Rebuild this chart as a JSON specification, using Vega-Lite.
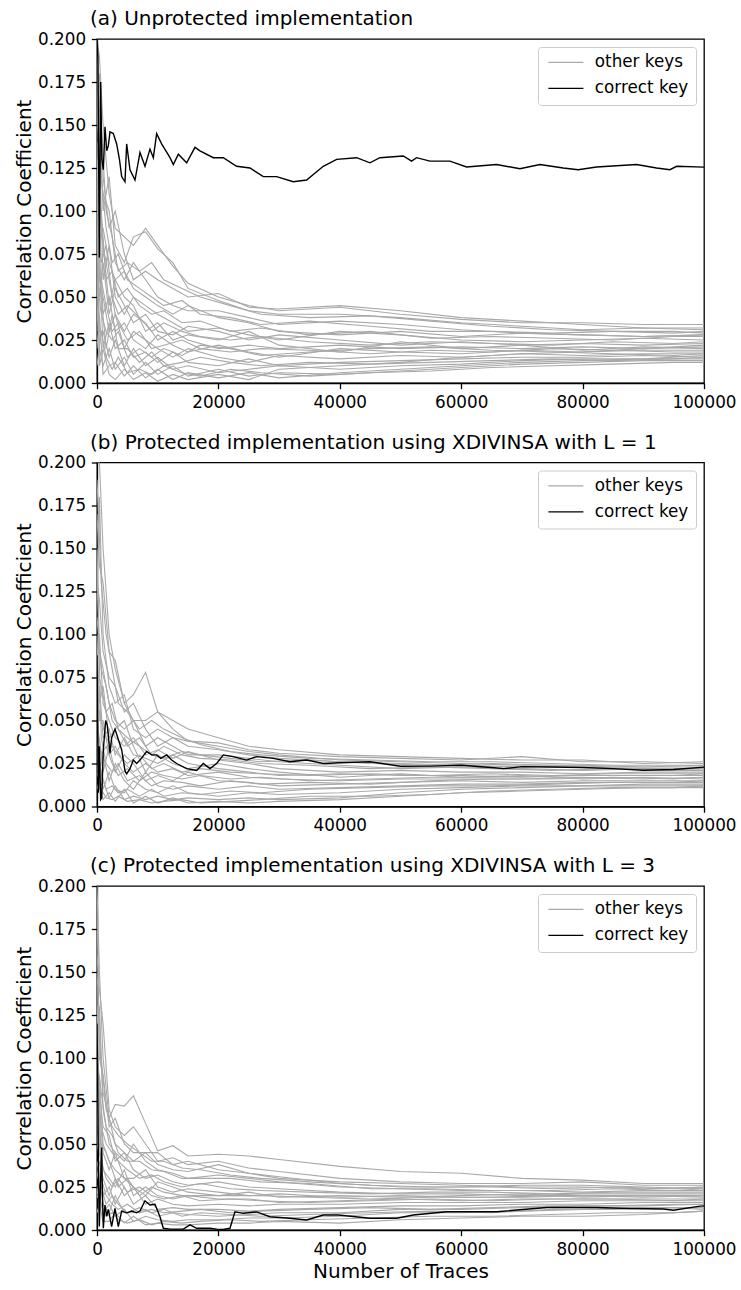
{
"$schema": "https://vega.github.io/schema/vega-lite/v6.json",
"padding": {"left": 13, "top": 8, "right": 5, "bottom": 5},
"background": "white",
"spacing": 19.5,
"config": {
  "font": "DejaVu Sans",
  "view": {"stroke": "black", "strokeWidth": 1.3},
  "axis": {"grid": false, "domainColor": "black", "domainWidth": 1.3, "tickColor": "black", "tickWidth": 1.3, "tickSize": 5.7, "labelPadding": 5.7, "labelFont": "DejaVu Sans", "labelFontSize": 16.8, "labelColor": "black", "titleFont": "DejaVu Sans", "titleFontSize": 20, "titleFontWeight": "normal", "titleColor": "black"},
  "title": {"font": "DejaVu Sans", "fontSize": 20, "fontWeight": "normal", "anchor": "start", "frame": "group", "color": "black", "offset": 2, "baseline": "alphabetic", "dx": -7},
  "legend": {"orient": "top-right", "offset": 8, "padding": 7, "strokeColor": "#cccccc", "fillColor": "white", "cornerRadius": 3, "labelFont": "DejaVu Sans", "labelFontSize": 16.8, "labelColor": "black", "symbolType": "M-1,0H6", "symbolSize": 100, "symbolStrokeWidth": 1.3, "labelOffset": 33, "rowPadding": 8}
},
"resolve": {"legend": {"color": "independent"}},
"vconcat": [
{
  "width": 607, "height": 344,
  "title": "(a) Unprotected implementation",
  "layer": [
    {
      "data": {"values": [
{"k":1,"x":0,"y":0.2},{"k":1,"x":400,"y":0.19},{"k":1,"x":1000,"y":0.15},{"k":1,"x":2000,"y":0.11},{"k":1,"x":3000,"y":0.09},{"k":1,"x":4500,"y":0.085},{"k":1,"x":6000,"y":0.08},{"k":1,"x":8000,"y":0.09},{"k":1,"x":10000,"y":0.08},{"k":1,"x":12500,"y":0.068},{"k":1,"x":15000,"y":0.058},{"k":1,"x":20000,"y":0.05},{"k":1,"x":25000,"y":0.045},{"k":1,"x":30000,"y":0.042},{"k":1,"x":40000,"y":0.044},{"k":1,"x":50000,"y":0.04},{"k":1,"x":60000,"y":0.037},{"k":1,"x":70000,"y":0.035},{"k":1,"x":80000,"y":0.035},{"k":1,"x":90000,"y":0.034},{"k":1,"x":100000,"y":0.034},
{"k":2,"x":0,"y":0.19},{"k":2,"x":400,"y":0.16},{"k":2,"x":1000,"y":0.1},{"k":2,"x":2000,"y":0.12},{"k":2,"x":3000,"y":0.08},{"k":2,"x":4500,"y":0.07},{"k":2,"x":6000,"y":0.085},{"k":2,"x":8000,"y":0.088},{"k":2,"x":10000,"y":0.078},{"k":2,"x":12500,"y":0.07},{"k":2,"x":15000,"y":0.055},{"k":2,"x":20000,"y":0.048},{"k":2,"x":25000,"y":0.042},{"k":2,"x":30000,"y":0.04},{"k":2,"x":40000,"y":0.04},{"k":2,"x":50000,"y":0.038},{"k":2,"x":60000,"y":0.035},{"k":2,"x":70000,"y":0.033},{"k":2,"x":80000,"y":0.031},{"k":2,"x":90000,"y":0.032},{"k":2,"x":100000,"y":0.031},
{"k":3,"x":0,"y":0.15},{"k":3,"x":400,"y":0.18},{"k":3,"x":1000,"y":0.12},{"k":3,"x":2000,"y":0.09},{"k":3,"x":3000,"y":0.1},{"k":3,"x":4500,"y":0.075},{"k":3,"x":6000,"y":0.06},{"k":3,"x":8000,"y":0.065},{"k":3,"x":10000,"y":0.06},{"k":3,"x":12500,"y":0.055},{"k":3,"x":15000,"y":0.05},{"k":3,"x":20000,"y":0.052},{"k":3,"x":25000,"y":0.044},{"k":3,"x":30000,"y":0.043},{"k":3,"x":40000,"y":0.045},{"k":3,"x":50000,"y":0.042},{"k":3,"x":60000,"y":0.038},{"k":3,"x":70000,"y":0.036},{"k":3,"x":80000,"y":0.034},{"k":3,"x":90000,"y":0.032},{"k":3,"x":100000,"y":0.032},
{"k":4,"x":0,"y":0.12},{"k":4,"x":400,"y":0.08},{"k":4,"x":1000,"y":0.09},{"k":4,"x":2000,"y":0.07},{"k":4,"x":3000,"y":0.06},{"k":4,"x":4500,"y":0.065},{"k":4,"x":6000,"y":0.055},{"k":4,"x":8000,"y":0.05},{"k":4,"x":10000,"y":0.045},{"k":4,"x":12500,"y":0.04},{"k":4,"x":15000,"y":0.045},{"k":4,"x":20000,"y":0.038},{"k":4,"x":25000,"y":0.035},{"k":4,"x":30000,"y":0.03},{"k":4,"x":40000,"y":0.028},{"k":4,"x":50000,"y":0.03},{"k":4,"x":60000,"y":0.027},{"k":4,"x":70000,"y":0.029},{"k":4,"x":80000,"y":0.028},{"k":4,"x":90000,"y":0.027},{"k":4,"x":100000,"y":0.028},
{"k":5,"x":0,"y":0.1},{"k":5,"x":400,"y":0.14},{"k":5,"x":1000,"y":0.06},{"k":5,"x":2000,"y":0.08},{"k":5,"x":3000,"y":0.05},{"k":5,"x":4500,"y":0.04},{"k":5,"x":6000,"y":0.05},{"k":5,"x":8000,"y":0.045},{"k":5,"x":10000,"y":0.04},{"k":5,"x":12500,"y":0.035},{"k":5,"x":15000,"y":0.03},{"k":5,"x":20000,"y":0.032},{"k":5,"x":25000,"y":0.028},{"k":5,"x":30000,"y":0.025},{"k":5,"x":40000,"y":0.03},{"k":5,"x":50000,"y":0.028},{"k":5,"x":60000,"y":0.025},{"k":5,"x":70000,"y":0.024},{"k":5,"x":80000,"y":0.025},{"k":5,"x":90000,"y":0.026},{"k":5,"x":100000,"y":0.025},
{"k":6,"x":0,"y":0.08},{"k":6,"x":400,"y":0.05},{"k":6,"x":1000,"y":0.07},{"k":6,"x":2000,"y":0.04},{"k":6,"x":3000,"y":0.055},{"k":6,"x":4500,"y":0.045},{"k":6,"x":6000,"y":0.035},{"k":6,"x":8000,"y":0.04},{"k":6,"x":10000,"y":0.03},{"k":6,"x":12500,"y":0.028},{"k":6,"x":15000,"y":0.033},{"k":6,"x":20000,"y":0.03},{"k":6,"x":25000,"y":0.025},{"k":6,"x":30000,"y":0.028},{"k":6,"x":40000,"y":0.025},{"k":6,"x":50000,"y":0.022},{"k":6,"x":60000,"y":0.024},{"k":6,"x":70000,"y":0.022},{"k":6,"x":80000,"y":0.023},{"k":6,"x":90000,"y":0.022},{"k":6,"x":100000,"y":0.023},
{"k":7,"x":0,"y":0.18},{"k":7,"x":400,"y":0.1},{"k":7,"x":1000,"y":0.08},{"k":7,"x":2000,"y":0.06},{"k":7,"x":3000,"y":0.04},{"k":7,"x":4500,"y":0.03},{"k":7,"x":6000,"y":0.04},{"k":7,"x":8000,"y":0.035},{"k":7,"x":10000,"y":0.025},{"k":7,"x":12500,"y":0.03},{"k":7,"x":15000,"y":0.025},{"k":7,"x":20000,"y":0.02},{"k":7,"x":25000,"y":0.022},{"k":7,"x":30000,"y":0.02},{"k":7,"x":40000,"y":0.022},{"k":7,"x":50000,"y":0.02},{"k":7,"x":60000,"y":0.021},{"k":7,"x":70000,"y":0.02},{"k":7,"x":80000,"y":0.021},{"k":7,"x":90000,"y":0.02},{"k":7,"x":100000,"y":0.021},
{"k":8,"x":0,"y":0.05},{"k":8,"x":400,"y":0.09},{"k":8,"x":1000,"y":0.04},{"k":8,"x":2000,"y":0.05},{"k":8,"x":3000,"y":0.03},{"k":8,"x":4500,"y":0.035},{"k":8,"x":6000,"y":0.025},{"k":8,"x":8000,"y":0.02},{"k":8,"x":10000,"y":0.028},{"k":8,"x":12500,"y":0.022},{"k":8,"x":15000,"y":0.018},{"k":8,"x":20000,"y":0.022},{"k":8,"x":25000,"y":0.018},{"k":8,"x":30000,"y":0.015},{"k":8,"x":40000,"y":0.02},{"k":8,"x":50000,"y":0.018},{"k":8,"x":60000,"y":0.017},{"k":8,"x":70000,"y":0.019},{"k":8,"x":80000,"y":0.018},{"k":8,"x":90000,"y":0.019},{"k":8,"x":100000,"y":0.019},
{"k":9,"x":0,"y":0.14},{"k":9,"x":400,"y":0.06},{"k":9,"x":1000,"y":0.05},{"k":9,"x":2000,"y":0.03},{"k":9,"x":3000,"y":0.04},{"k":9,"x":4500,"y":0.02},{"k":9,"x":6000,"y":0.03},{"k":9,"x":8000,"y":0.025},{"k":9,"x":10000,"y":0.02},{"k":9,"x":12500,"y":0.015},{"k":9,"x":15000,"y":0.02},{"k":9,"x":20000,"y":0.015},{"k":9,"x":25000,"y":0.012},{"k":9,"x":30000,"y":0.016},{"k":9,"x":40000,"y":0.014},{"k":9,"x":50000,"y":0.016},{"k":9,"x":60000,"y":0.015},{"k":9,"x":70000,"y":0.017},{"k":9,"x":80000,"y":0.016},{"k":9,"x":90000,"y":0.017},{"k":9,"x":100000,"y":0.017},
{"k":10,"x":0,"y":0.03},{"k":10,"x":400,"y":0.07},{"k":10,"x":1000,"y":0.02},{"k":10,"x":2000,"y":0.035},{"k":10,"x":3000,"y":0.02},{"k":10,"x":4500,"y":0.025},{"k":10,"x":6000,"y":0.015},{"k":10,"x":8000,"y":0.018},{"k":10,"x":10000,"y":0.012},{"k":10,"x":12500,"y":0.018},{"k":10,"x":15000,"y":0.012},{"k":10,"x":20000,"y":0.01},{"k":10,"x":25000,"y":0.014},{"k":10,"x":30000,"y":0.01},{"k":10,"x":40000,"y":0.012},{"k":10,"x":50000,"y":0.013},{"k":10,"x":60000,"y":0.014},{"k":10,"x":70000,"y":0.015},{"k":10,"x":80000,"y":0.015},{"k":10,"x":90000,"y":0.016},{"k":10,"x":100000,"y":0.015},
{"k":11,"x":0,"y":0.09},{"k":11,"x":400,"y":0.03},{"k":11,"x":1000,"y":0.03},{"k":11,"x":2000,"y":0.015},{"k":11,"x":3000,"y":0.025},{"k":11,"x":4500,"y":0.01},{"k":11,"x":6000,"y":0.02},{"k":11,"x":8000,"y":0.01},{"k":11,"x":10000,"y":0.015},{"k":11,"x":12500,"y":0.008},{"k":11,"x":15000,"y":0.01},{"k":11,"x":20000,"y":0.006},{"k":11,"x":25000,"y":0.008},{"k":11,"x":30000,"y":0.01},{"k":11,"x":40000,"y":0.008},{"k":11,"x":50000,"y":0.01},{"k":11,"x":60000,"y":0.011},{"k":11,"x":70000,"y":0.013},{"k":11,"x":80000,"y":0.014},{"k":11,"x":90000,"y":0.014},{"k":11,"x":100000,"y":0.014},
{"k":12,"x":0,"y":0.06},{"k":12,"x":400,"y":0.02},{"k":12,"x":1000,"y":0.01},{"k":12,"x":2000,"y":0.02},{"k":12,"x":3000,"y":0.008},{"k":12,"x":4500,"y":0.015},{"k":12,"x":6000,"y":0.005},{"k":12,"x":8000,"y":0.012},{"k":12,"x":10000,"y":0.005},{"k":12,"x":12500,"y":0.01},{"k":12,"x":15000,"y":0.004},{"k":12,"x":20000,"y":0.008},{"k":12,"x":25000,"y":0.004},{"k":12,"x":30000,"y":0.006},{"k":12,"x":40000,"y":0.005},{"k":12,"x":50000,"y":0.007},{"k":12,"x":60000,"y":0.009},{"k":12,"x":70000,"y":0.011},{"k":12,"x":80000,"y":0.012},{"k":12,"x":90000,"y":0.013},{"k":12,"x":100000,"y":0.013},
{"k":13,"x":0,"y":0.02},{"k":13,"x":400,"y":0.04},{"k":13,"x":1000,"y":0.005},{"k":13,"x":2000,"y":0.01},{"k":13,"x":3000,"y":0.012},{"k":13,"x":4500,"y":0.004},{"k":13,"x":6000,"y":0.01},{"k":13,"x":8000,"y":0.003},{"k":13,"x":10000,"y":0.008},{"k":13,"x":12500,"y":0.002},{"k":13,"x":15000,"y":0.006},{"k":13,"x":20000,"y":0.003},{"k":13,"x":25000,"y":0.006},{"k":13,"x":30000,"y":0.003},{"k":13,"x":40000,"y":0.006},{"k":13,"x":50000,"y":0.008},{"k":13,"x":60000,"y":0.01},{"k":13,"x":70000,"y":0.012},{"k":13,"x":80000,"y":0.013},{"k":13,"x":90000,"y":0.014},{"k":13,"x":100000,"y":0.016},
{"k":14,"x":0,"y":0.11},{"k":14,"x":400,"y":0.01},{"k":14,"x":1000,"y":0.02},{"k":14,"x":2000,"y":0.005},{"k":14,"x":3000,"y":0.002},{"k":14,"x":4500,"y":0.008},{"k":14,"x":6000,"y":0.002},{"k":14,"x":8000,"y":0.006},{"k":14,"x":10000,"y":0.001},{"k":14,"x":12500,"y":0.005},{"k":14,"x":15000,"y":0.002},{"k":14,"x":20000,"y":0.005},{"k":14,"x":25000,"y":0.002},{"k":14,"x":30000,"y":0.008},{"k":14,"x":40000,"y":0.01},{"k":14,"x":50000,"y":0.012},{"k":14,"x":60000,"y":0.015},{"k":14,"x":70000,"y":0.017},{"k":14,"x":80000,"y":0.018},{"k":14,"x":90000,"y":0.02},{"k":14,"x":100000,"y":0.022},
{"k":15,"x":0,"y":0.17},{"k":15,"x":400,"y":0.13},{"k":15,"x":1000,"y":0.11},{"k":15,"x":2000,"y":0.1},{"k":15,"x":3000,"y":0.07},{"k":15,"x":4500,"y":0.06},{"k":15,"x":6000,"y":0.07},{"k":15,"x":8000,"y":0.06},{"k":15,"x":10000,"y":0.05},{"k":15,"x":12500,"y":0.045},{"k":15,"x":15000,"y":0.042},{"k":15,"x":20000,"y":0.042},{"k":15,"x":25000,"y":0.038},{"k":15,"x":30000,"y":0.034},{"k":15,"x":40000,"y":0.036},{"k":15,"x":50000,"y":0.034},{"k":15,"x":60000,"y":0.031},{"k":15,"x":70000,"y":0.029},{"k":15,"x":80000,"y":0.028},{"k":15,"x":90000,"y":0.027},{"k":15,"x":100000,"y":0.028},
{"k":16,"x":0,"y":0.07},{"k":16,"x":400,"y":0.11},{"k":16,"x":1000,"y":0.08},{"k":16,"x":2000,"y":0.045},{"k":16,"x":3000,"y":0.06},{"k":16,"x":4500,"y":0.05},{"k":16,"x":6000,"y":0.045},{"k":16,"x":8000,"y":0.03},{"k":16,"x":10000,"y":0.035},{"k":16,"x":12500,"y":0.025},{"k":16,"x":15000,"y":0.028},{"k":16,"x":20000,"y":0.025},{"k":16,"x":25000,"y":0.03},{"k":16,"x":30000,"y":0.022},{"k":16,"x":40000,"y":0.018},{"k":16,"x":50000,"y":0.024},{"k":16,"x":60000,"y":0.02},{"k":16,"x":70000,"y":0.022},{"k":16,"x":80000,"y":0.019},{"k":16,"x":90000,"y":0.021},{"k":16,"x":100000,"y":0.02},
{"k":17,"x":0,"y":0.16},{"k":17,"x":700,"y":0.12},{"k":17,"x":1500,"y":0.09},{"k":17,"x":2500,"y":0.07},{"k":17,"x":3500,"y":0.075},{"k":17,"x":5000,"y":0.06},{"k":17,"x":7000,"y":0.055},{"k":17,"x":9000,"y":0.05},{"k":17,"x":11000,"y":0.045},{"k":17,"x":14000,"y":0.048},{"k":17,"x":17000,"y":0.04},{"k":17,"x":22000,"y":0.038},{"k":17,"x":27000,"y":0.034},{"k":17,"x":35000,"y":0.036},{"k":17,"x":45000,"y":0.033},{"k":17,"x":55000,"y":0.03},{"k":17,"x":65000,"y":0.03},{"k":17,"x":75000,"y":0.029},{"k":17,"x":85000,"y":0.03},{"k":17,"x":95000,"y":0.03},{"k":17,"x":100000,"y":0.029},
{"k":18,"x":0,"y":0.09},{"k":18,"x":700,"y":0.1},{"k":18,"x":1500,"y":0.06},{"k":18,"x":2500,"y":0.065},{"k":18,"x":3500,"y":0.05},{"k":18,"x":5000,"y":0.055},{"k":18,"x":7000,"y":0.045},{"k":18,"x":9000,"y":0.04},{"k":18,"x":11000,"y":0.042},{"k":18,"x":14000,"y":0.035},{"k":18,"x":17000,"y":0.036},{"k":18,"x":22000,"y":0.03},{"k":18,"x":27000,"y":0.032},{"k":18,"x":35000,"y":0.028},{"k":18,"x":45000,"y":0.03},{"k":18,"x":55000,"y":0.026},{"k":18,"x":65000,"y":0.027},{"k":18,"x":75000,"y":0.026},{"k":18,"x":85000,"y":0.025},{"k":18,"x":95000,"y":0.027},{"k":18,"x":100000,"y":0.027},
{"k":19,"x":0,"y":0.13},{"k":19,"x":700,"y":0.07},{"k":19,"x":1500,"y":0.08},{"k":19,"x":2500,"y":0.05},{"k":19,"x":3500,"y":0.04},{"k":19,"x":5000,"y":0.045},{"k":19,"x":7000,"y":0.038},{"k":19,"x":9000,"y":0.03},{"k":19,"x":11000,"y":0.035},{"k":19,"x":14000,"y":0.03},{"k":19,"x":17000,"y":0.027},{"k":19,"x":22000,"y":0.025},{"k":19,"x":27000,"y":0.027},{"k":19,"x":35000,"y":0.024},{"k":19,"x":45000,"y":0.022},{"k":19,"x":55000,"y":0.024},{"k":19,"x":65000,"y":0.023},{"k":19,"x":75000,"y":0.022},{"k":19,"x":85000,"y":0.024},{"k":19,"x":95000,"y":0.023},{"k":19,"x":100000,"y":0.024},
{"k":20,"x":0,"y":0.04},{"k":20,"x":700,"y":0.06},{"k":20,"x":1500,"y":0.045},{"k":20,"x":2500,"y":0.03},{"k":20,"x":3500,"y":0.035},{"k":20,"x":5000,"y":0.025},{"k":20,"x":7000,"y":0.03},{"k":20,"x":9000,"y":0.02},{"k":20,"x":11000,"y":0.022},{"k":20,"x":14000,"y":0.025},{"k":20,"x":17000,"y":0.02},{"k":20,"x":22000,"y":0.018},{"k":20,"x":27000,"y":0.02},{"k":20,"x":35000,"y":0.019},{"k":20,"x":45000,"y":0.017},{"k":20,"x":55000,"y":0.019},{"k":20,"x":65000,"y":0.018},{"k":20,"x":75000,"y":0.02},{"k":20,"x":85000,"y":0.019},{"k":20,"x":95000,"y":0.018},{"k":20,"x":100000,"y":0.018},
{"k":21,"x":0,"y":0.11},{"k":21,"x":700,"y":0.05},{"k":21,"x":1500,"y":0.02},{"k":21,"x":2500,"y":0.04},{"k":21,"x":3500,"y":0.02},{"k":21,"x":5000,"y":0.02},{"k":21,"x":7000,"y":0.012},{"k":21,"x":9000,"y":0.018},{"k":21,"x":11000,"y":0.01},{"k":21,"x":14000,"y":0.012},{"k":21,"x":17000,"y":0.015},{"k":21,"x":22000,"y":0.012},{"k":21,"x":27000,"y":0.01},{"k":21,"x":35000,"y":0.012},{"k":21,"x":45000,"y":0.011},{"k":21,"x":55000,"y":0.012},{"k":21,"x":65000,"y":0.013},{"k":21,"x":75000,"y":0.014},{"k":21,"x":85000,"y":0.013},{"k":21,"x":95000,"y":0.014},{"k":21,"x":100000,"y":0.015},
{"k":22,"x":0,"y":0.01},{"k":22,"x":700,"y":0.03},{"k":22,"x":1500,"y":0.015},{"k":22,"x":2500,"y":0.008},{"k":22,"x":3500,"y":0.015},{"k":22,"x":5000,"y":0.006},{"k":22,"x":7000,"y":0.008},{"k":22,"x":9000,"y":0.005},{"k":22,"x":11000,"y":0.01},{"k":22,"x":14000,"y":0.006},{"k":22,"x":17000,"y":0.004},{"k":22,"x":22000,"y":0.008},{"k":22,"x":27000,"y":0.006},{"k":22,"x":35000,"y":0.004},{"k":22,"x":45000,"y":0.006},{"k":22,"x":55000,"y":0.007},{"k":22,"x":65000,"y":0.009},{"k":22,"x":75000,"y":0.01},{"k":22,"x":85000,"y":0.011},{"k":22,"x":95000,"y":0.012},{"k":22,"x":100000,"y":0.012},
{"k":23,"x":0,"y":0.18},{"k":23,"x":700,"y":0.15},{"k":23,"x":1500,"y":0.1},{"k":23,"x":2500,"y":0.085},{"k":23,"x":3500,"y":0.065},{"k":23,"x":5000,"y":0.07},{"k":23,"x":7000,"y":0.065},{"k":23,"x":9000,"y":0.07},{"k":23,"x":11000,"y":0.06},{"k":23,"x":14000,"y":0.055},{"k":23,"x":17000,"y":0.05},{"k":23,"x":22000,"y":0.045},{"k":23,"x":27000,"y":0.04},{"k":23,"x":35000,"y":0.038},{"k":23,"x":45000,"y":0.039},{"k":23,"x":55000,"y":0.036},{"k":23,"x":65000,"y":0.033},{"k":23,"x":75000,"y":0.031},{"k":23,"x":85000,"y":0.03},{"k":23,"x":95000,"y":0.029},{"k":23,"x":100000,"y":0.03},
{"k":24,"x":0,"y":0.06},{"k":24,"x":700,"y":0.04},{"k":24,"x":1500,"y":0.03},{"k":24,"x":2500,"y":0.025},{"k":24,"x":3500,"y":0.03},{"k":24,"x":5000,"y":0.015},{"k":24,"x":7000,"y":0.02},{"k":24,"x":9000,"y":0.015},{"k":24,"x":11000,"y":0.02},{"k":24,"x":14000,"y":0.016},{"k":24,"x":17000,"y":0.022},{"k":24,"x":22000,"y":0.02},{"k":24,"x":27000,"y":0.016},{"k":24,"x":35000,"y":0.018},{"k":24,"x":45000,"y":0.02},{"k":24,"x":55000,"y":0.021},{"k":24,"x":65000,"y":0.019},{"k":24,"x":75000,"y":0.018},{"k":24,"x":85000,"y":0.017},{"k":24,"x":95000,"y":0.016},{"k":24,"x":100000,"y":0.017}
      ]},
      "mark": {"type": "line", "strokeWidth": 1.1, "clip": true},
      "encoding": {
        "x": {"field": "x", "type": "quantitative", "scale": {"domain": [0, 100000], "nice": false}, "axis": {"title": null, "values": [0, 20000, 40000, 60000, 80000, 100000], "format": "d", "labelFlush": false}},
        "y": {"field": "y", "type": "quantitative", "scale": {"domain": [0, 0.2], "nice": false}, "axis": {"title": "Correlation Coefficient", "values": [0, 0.025, 0.05, 0.075, 0.1, 0.125, 0.15, 0.175, 0.2], "format": ".3f", "titlePadding": 3}},
        "detail": {"field": "k", "type": "nominal"},
        "color": {"datum": "other keys", "type": "nominal", "scale": {"domain": ["other keys", "correct key"], "range": ["#a9a9a9", "#000000"]}, "legend": {"title": null}}
      }
    },
    {
      "data": {"values": [
{"x":0,"y":0.2},{"x":150,"y":0.19},{"x":384,"y":0.073},{"x":604,"y":0.175},{"x":800,"y":0.13},{"x":1043,"y":0.124},{"x":1318,"y":0.149},{"x":1600,"y":0.135},{"x":1866,"y":0.138},{"x":2141,"y":0.146},{"x":2690,"y":0.145},{"x":3239,"y":0.139},{"x":3700,"y":0.13},{"x":4062,"y":0.12},{"x":4612,"y":0.117},{"x":4886,"y":0.139},{"x":5435,"y":0.124},{"x":6259,"y":0.118},{"x":7082,"y":0.134},{"x":7905,"y":0.126},{"x":8729,"y":0.136},{"x":9278,"y":0.131},{"x":9827,"y":0.145},{"x":10650,"y":0.139},{"x":12023,"y":0.131},{"x":12572,"y":0.127},{"x":13395,"y":0.133},{"x":14768,"y":0.128},{"x":16141,"y":0.137},{"x":16964,"y":0.135},{"x":19160,"y":0.131},{"x":20807,"y":0.131},{"x":23003,"y":0.126},{"x":25199,"y":0.125},{"x":27395,"y":0.12},{"x":29590,"y":0.12},{"x":32336,"y":0.117},{"x":34532,"y":0.118},{"x":37277,"y":0.126},{"x":39480,"y":0.13},{"x":42770,"y":0.131},{"x":44970,"y":0.128},{"x":46610,"y":0.131},{"x":50450,"y":0.132},{"x":51830,"y":0.129},{"x":52650,"y":0.131},{"x":54850,"y":0.129},{"x":58140,"y":0.129},{"x":60880,"y":0.1256},{"x":65830,"y":0.127},{"x":69670,"y":0.1246},{"x":72970,"y":0.127},{"x":76810,"y":0.125},{"x":79280,"y":0.124},{"x":82300,"y":0.1256},{"x":88890,"y":0.127},{"x":92190,"y":0.125},{"x":94390,"y":0.124},{"x":95490,"y":0.126},{"x":100000,"y":0.1255}
      ]},
      "mark": {"type": "line", "strokeWidth": 1.4, "clip": true},
      "encoding": {
        "x": {"field": "x", "type": "quantitative"},
        "y": {"field": "y", "type": "quantitative"},
        "color": {"datum": "correct key", "type": "nominal", "legend": {"title": null}}
      }
    }
  ]
},
{
  "width": 607, "height": 344,
  "title": "(b) Protected implementation using XDIVINSA with L = 1",
  "layer": [
    {
      "data": {"values": [
{"k":1,"x":0,"y":0.2},{"k":1,"x":400,"y":0.2},{"k":1,"x":1000,"y":0.15},{"k":1,"x":2000,"y":0.1},{"k":1,"x":3000,"y":0.08},{"k":1,"x":4500,"y":0.06},{"k":1,"x":6000,"y":0.065},{"k":1,"x":8000,"y":0.078},{"k":1,"x":10000,"y":0.055},{"k":1,"x":12500,"y":0.045},{"k":1,"x":15000,"y":0.038},{"k":1,"x":20000,"y":0.037},{"k":1,"x":25000,"y":0.033},{"k":1,"x":30000,"y":0.031},{"k":1,"x":40000,"y":0.029},{"k":1,"x":50000,"y":0.028},{"k":1,"x":60000,"y":0.027},{"k":1,"x":70000,"y":0.029},{"k":1,"x":80000,"y":0.026},{"k":1,"x":90000,"y":0.026},{"k":1,"x":100000,"y":0.025},
{"k":2,"x":0,"y":0.17},{"k":2,"x":400,"y":0.14},{"k":2,"x":1000,"y":0.13},{"k":2,"x":2000,"y":0.09},{"k":2,"x":3000,"y":0.085},{"k":2,"x":4500,"y":0.06},{"k":2,"x":6000,"y":0.05},{"k":2,"x":8000,"y":0.05},{"k":2,"x":10000,"y":0.055},{"k":2,"x":12500,"y":0.05},{"k":2,"x":15000,"y":0.045},{"k":2,"x":20000,"y":0.04},{"k":2,"x":25000,"y":0.035},{"k":2,"x":30000,"y":0.033},{"k":2,"x":40000,"y":0.03},{"k":2,"x":50000,"y":0.029},{"k":2,"x":60000,"y":0.028},{"k":2,"x":70000,"y":0.027},{"k":2,"x":80000,"y":0.027},{"k":2,"x":90000,"y":0.025},{"k":2,"x":100000,"y":0.026},
{"k":3,"x":0,"y":0.12},{"k":3,"x":400,"y":0.18},{"k":3,"x":1000,"y":0.1},{"k":3,"x":2000,"y":0.07},{"k":3,"x":3000,"y":0.06},{"k":3,"x":4500,"y":0.065},{"k":3,"x":6000,"y":0.045},{"k":3,"x":8000,"y":0.04},{"k":3,"x":10000,"y":0.045},{"k":3,"x":12500,"y":0.04},{"k":3,"x":15000,"y":0.038},{"k":3,"x":20000,"y":0.035},{"k":3,"x":25000,"y":0.032},{"k":3,"x":30000,"y":0.03},{"k":3,"x":40000,"y":0.027},{"k":3,"x":50000,"y":0.026},{"k":3,"x":60000,"y":0.025},{"k":3,"x":70000,"y":0.024},{"k":3,"x":80000,"y":0.024},{"k":3,"x":90000,"y":0.023},{"k":3,"x":100000,"y":0.024},
{"k":4,"x":0,"y":0.15},{"k":4,"x":400,"y":0.09},{"k":4,"x":1000,"y":0.08},{"k":4,"x":2000,"y":0.06},{"k":4,"x":3000,"y":0.05},{"k":4,"x":4500,"y":0.045},{"k":4,"x":6000,"y":0.05},{"k":4,"x":8000,"y":0.035},{"k":4,"x":10000,"y":0.04},{"k":4,"x":12500,"y":0.035},{"k":4,"x":15000,"y":0.03},{"k":4,"x":20000,"y":0.03},{"k":4,"x":25000,"y":0.028},{"k":4,"x":30000,"y":0.026},{"k":4,"x":40000,"y":0.024},{"k":4,"x":50000,"y":0.022},{"k":4,"x":60000,"y":0.023},{"k":4,"x":70000,"y":0.022},{"k":4,"x":80000,"y":0.021},{"k":4,"x":90000,"y":0.022},{"k":4,"x":100000,"y":0.021},
{"k":5,"x":0,"y":0.08},{"k":5,"x":400,"y":0.1},{"k":5,"x":1000,"y":0.06},{"k":5,"x":2000,"y":0.05},{"k":5,"x":3000,"y":0.04},{"k":5,"x":4500,"y":0.035},{"k":5,"x":6000,"y":0.04},{"k":5,"x":8000,"y":0.03},{"k":5,"x":10000,"y":0.033},{"k":5,"x":12500,"y":0.028},{"k":5,"x":15000,"y":0.032},{"k":5,"x":20000,"y":0.027},{"k":5,"x":25000,"y":0.025},{"k":5,"x":30000,"y":0.022},{"k":5,"x":40000,"y":0.02},{"k":5,"x":50000,"y":0.021},{"k":5,"x":60000,"y":0.02},{"k":5,"x":70000,"y":0.02},{"k":5,"x":80000,"y":0.019},{"k":5,"x":90000,"y":0.02},{"k":5,"x":100000,"y":0.02},
{"k":6,"x":0,"y":0.05},{"k":6,"x":400,"y":0.07},{"k":6,"x":1000,"y":0.04},{"k":6,"x":2000,"y":0.045},{"k":6,"x":3000,"y":0.03},{"k":6,"x":4500,"y":0.04},{"k":6,"x":6000,"y":0.03},{"k":6,"x":8000,"y":0.028},{"k":6,"x":10000,"y":0.025},{"k":6,"x":12500,"y":0.03},{"k":6,"x":15000,"y":0.025},{"k":6,"x":20000,"y":0.022},{"k":6,"x":25000,"y":0.02},{"k":6,"x":30000,"y":0.018},{"k":6,"x":40000,"y":0.019},{"k":6,"x":50000,"y":0.018},{"k":6,"x":60000,"y":0.018},{"k":6,"x":70000,"y":0.017},{"k":6,"x":80000,"y":0.018},{"k":6,"x":90000,"y":0.018},{"k":6,"x":100000,"y":0.018},
{"k":7,"x":0,"y":0.1},{"k":7,"x":400,"y":0.05},{"k":7,"x":1000,"y":0.05},{"k":7,"x":2000,"y":0.03},{"k":7,"x":3000,"y":0.035},{"k":7,"x":4500,"y":0.025},{"k":7,"x":6000,"y":0.02},{"k":7,"x":8000,"y":0.025},{"k":7,"x":10000,"y":0.02},{"k":7,"x":12500,"y":0.022},{"k":7,"x":15000,"y":0.018},{"k":7,"x":20000,"y":0.02},{"k":7,"x":25000,"y":0.017},{"k":7,"x":30000,"y":0.016},{"k":7,"x":40000,"y":0.015},{"k":7,"x":50000,"y":0.016},{"k":7,"x":60000,"y":0.016},{"k":7,"x":70000,"y":0.016},{"k":7,"x":80000,"y":0.017},{"k":7,"x":90000,"y":0.016},{"k":7,"x":100000,"y":0.017},
{"k":8,"x":0,"y":0.03},{"k":8,"x":400,"y":0.04},{"k":8,"x":1000,"y":0.02},{"k":8,"x":2000,"y":0.035},{"k":8,"x":3000,"y":0.02},{"k":8,"x":4500,"y":0.03},{"k":8,"x":6000,"y":0.025},{"k":8,"x":8000,"y":0.015},{"k":8,"x":10000,"y":0.018},{"k":8,"x":12500,"y":0.015},{"k":8,"x":15000,"y":0.02},{"k":8,"x":20000,"y":0.015},{"k":8,"x":25000,"y":0.014},{"k":8,"x":30000,"y":0.012},{"k":8,"x":40000,"y":0.013},{"k":8,"x":50000,"y":0.014},{"k":8,"x":60000,"y":0.015},{"k":8,"x":70000,"y":0.014},{"k":8,"x":80000,"y":0.015},{"k":8,"x":90000,"y":0.015},{"k":8,"x":100000,"y":0.015},
{"k":9,"x":0,"y":0.07},{"k":9,"x":400,"y":0.02},{"k":9,"x":1000,"y":0.03},{"k":9,"x":2000,"y":0.015},{"k":9,"x":3000,"y":0.025},{"k":9,"x":4500,"y":0.015},{"k":9,"x":6000,"y":0.01},{"k":9,"x":8000,"y":0.02},{"k":9,"x":10000,"y":0.012},{"k":9,"x":12500,"y":0.01},{"k":9,"x":15000,"y":0.012},{"k":9,"x":20000,"y":0.01},{"k":9,"x":25000,"y":0.012},{"k":9,"x":30000,"y":0.01},{"k":9,"x":40000,"y":0.011},{"k":9,"x":50000,"y":0.012},{"k":9,"x":60000,"y":0.013},{"k":9,"x":70000,"y":0.013},{"k":9,"x":80000,"y":0.014},{"k":9,"x":90000,"y":0.014},{"k":9,"x":100000,"y":0.014},
{"k":10,"x":0,"y":0.02},{"k":10,"x":400,"y":0.03},{"k":10,"x":1000,"y":0.01},{"k":10,"x":2000,"y":0.02},{"k":10,"x":3000,"y":0.01},{"k":10,"x":4500,"y":0.008},{"k":10,"x":6000,"y":0.015},{"k":10,"x":8000,"y":0.01},{"k":10,"x":10000,"y":0.008},{"k":10,"x":12500,"y":0.012},{"k":10,"x":15000,"y":0.008},{"k":10,"x":20000,"y":0.006},{"k":10,"x":25000,"y":0.008},{"k":10,"x":30000,"y":0.007},{"k":10,"x":40000,"y":0.008},{"k":10,"x":50000,"y":0.01},{"k":10,"x":60000,"y":0.011},{"k":10,"x":70000,"y":0.012},{"k":10,"x":80000,"y":0.012},{"k":10,"x":90000,"y":0.013},{"k":10,"x":100000,"y":0.013},
{"k":11,"x":0,"y":0.04},{"k":11,"x":400,"y":0.01},{"k":11,"x":1000,"y":0.015},{"k":11,"x":2000,"y":0.005},{"k":11,"x":3000,"y":0.012},{"k":11,"x":4500,"y":0.004},{"k":11,"x":6000,"y":0.006},{"k":11,"x":8000,"y":0.004},{"k":11,"x":10000,"y":0.006},{"k":11,"x":12500,"y":0.004},{"k":11,"x":15000,"y":0.005},{"k":11,"x":20000,"y":0.004},{"k":11,"x":25000,"y":0.005},{"k":11,"x":30000,"y":0.004},{"k":11,"x":40000,"y":0.005},{"k":11,"x":50000,"y":0.008},{"k":11,"x":60000,"y":0.01},{"k":11,"x":70000,"y":0.011},{"k":11,"x":80000,"y":0.012},{"k":11,"x":90000,"y":0.012},{"k":11,"x":100000,"y":0.012},
{"k":12,"x":0,"y":0.01},{"k":12,"x":400,"y":0.015},{"k":12,"x":1000,"y":0.004},{"k":12,"x":2000,"y":0.008},{"k":12,"x":3000,"y":0.003},{"k":12,"x":4500,"y":0.01},{"k":12,"x":6000,"y":0.002},{"k":12,"x":8000,"y":0.006},{"k":12,"x":10000,"y":0.002},{"k":12,"x":12500,"y":0.005},{"k":12,"x":15000,"y":0.002},{"k":12,"x":20000,"y":0.003},{"k":12,"x":25000,"y":0.002},{"k":12,"x":30000,"y":0.003},{"k":12,"x":40000,"y":0.004},{"k":12,"x":50000,"y":0.006},{"k":12,"x":60000,"y":0.008},{"k":12,"x":70000,"y":0.009},{"k":12,"x":80000,"y":0.01},{"k":12,"x":90000,"y":0.011},{"k":12,"x":100000,"y":0.011},
{"k":13,"x":0,"y":0.13},{"k":13,"x":400,"y":0.12},{"k":13,"x":1000,"y":0.09},{"k":13,"x":2000,"y":0.075},{"k":13,"x":3000,"y":0.07},{"k":13,"x":4500,"y":0.055},{"k":13,"x":6000,"y":0.06},{"k":13,"x":8000,"y":0.045},{"k":13,"x":10000,"y":0.035},{"k":13,"x":12500,"y":0.04},{"k":13,"x":15000,"y":0.035},{"k":13,"x":20000,"y":0.033},{"k":13,"x":25000,"y":0.03},{"k":13,"x":30000,"y":0.028},{"k":13,"x":40000,"y":0.026},{"k":13,"x":50000,"y":0.025},{"k":13,"x":60000,"y":0.024},{"k":13,"x":70000,"y":0.023},{"k":13,"x":80000,"y":0.023},{"k":13,"x":90000,"y":0.022},{"k":13,"x":100000,"y":0.022},
{"k":14,"x":0,"y":0.09},{"k":14,"x":400,"y":0.06},{"k":14,"x":1000,"y":0.07},{"k":14,"x":2000,"y":0.04},{"k":14,"x":3000,"y":0.045},{"k":14,"x":4500,"y":0.05},{"k":14,"x":6000,"y":0.035},{"k":14,"x":8000,"y":0.02},{"k":14,"x":10000,"y":0.03},{"k":14,"x":12500,"y":0.025},{"k":14,"x":15000,"y":0.022},{"k":14,"x":20000,"y":0.025},{"k":14,"x":25000,"y":0.022},{"k":14,"x":30000,"y":0.02},{"k":14,"x":40000,"y":0.017},{"k":14,"x":50000,"y":0.019},{"k":14,"x":60000,"y":0.017},{"k":14,"x":70000,"y":0.018},{"k":14,"x":80000,"y":0.016},{"k":14,"x":90000,"y":0.017},{"k":14,"x":100000,"y":0.016},
{"k":15,"x":0,"y":0.19},{"k":15,"x":700,"y":0.13},{"k":15,"x":1500,"y":0.1},{"k":15,"x":2500,"y":0.08},{"k":15,"x":3500,"y":0.06},{"k":15,"x":5000,"y":0.055},{"k":15,"x":7000,"y":0.045},{"k":15,"x":9000,"y":0.05},{"k":15,"x":11000,"y":0.045},{"k":15,"x":14000,"y":0.04},{"k":15,"x":17000,"y":0.036},{"k":15,"x":22000,"y":0.032},{"k":15,"x":27000,"y":0.03},{"k":15,"x":35000,"y":0.028},{"k":15,"x":45000,"y":0.027},{"k":15,"x":55000,"y":0.026},{"k":15,"x":65000,"y":0.026},{"k":15,"x":75000,"y":0.025},{"k":15,"x":85000,"y":0.024},{"k":15,"x":95000,"y":0.024},{"k":15,"x":100000,"y":0.024},
{"k":16,"x":0,"y":0.11},{"k":16,"x":700,"y":0.08},{"k":16,"x":1500,"y":0.07},{"k":16,"x":2500,"y":0.05},{"k":16,"x":3500,"y":0.045},{"k":16,"x":5000,"y":0.04},{"k":16,"x":7000,"y":0.035},{"k":16,"x":9000,"y":0.03},{"k":16,"x":11000,"y":0.035},{"k":16,"x":14000,"y":0.03},{"k":16,"x":17000,"y":0.028},{"k":16,"x":22000,"y":0.027},{"k":16,"x":27000,"y":0.025},{"k":16,"x":35000,"y":0.024},{"k":16,"x":45000,"y":0.022},{"k":16,"x":55000,"y":0.023},{"k":16,"x":65000,"y":0.022},{"k":16,"x":75000,"y":0.021},{"k":16,"x":85000,"y":0.022},{"k":16,"x":95000,"y":0.021},{"k":16,"x":100000,"y":0.021},
{"k":17,"x":0,"y":0.06},{"k":17,"x":700,"y":0.05},{"k":17,"x":1500,"y":0.04},{"k":17,"x":2500,"y":0.035},{"k":17,"x":3500,"y":0.03},{"k":17,"x":5000,"y":0.025},{"k":17,"x":7000,"y":0.03},{"k":17,"x":9000,"y":0.022},{"k":17,"x":11000,"y":0.025},{"k":17,"x":14000,"y":0.02},{"k":17,"x":17000,"y":0.022},{"k":17,"x":22000,"y":0.02},{"k":17,"x":27000,"y":0.019},{"k":17,"x":35000,"y":0.018},{"k":17,"x":45000,"y":0.019},{"k":17,"x":55000,"y":0.018},{"k":17,"x":65000,"y":0.019},{"k":17,"x":75000,"y":0.018},{"k":17,"x":85000,"y":0.019},{"k":17,"x":95000,"y":0.019},{"k":17,"x":100000,"y":0.019},
{"k":18,"x":0,"y":0.14},{"k":18,"x":700,"y":0.04},{"k":18,"x":1500,"y":0.025},{"k":18,"x":2500,"y":0.02},{"k":18,"x":3500,"y":0.025},{"k":18,"x":5000,"y":0.015},{"k":18,"x":7000,"y":0.018},{"k":18,"x":9000,"y":0.012},{"k":18,"x":11000,"y":0.015},{"k":18,"x":14000,"y":0.014},{"k":18,"x":17000,"y":0.012},{"k":18,"x":22000,"y":0.015},{"k":18,"x":27000,"y":0.013},{"k":18,"x":35000,"y":0.014},{"k":18,"x":45000,"y":0.013},{"k":18,"x":55000,"y":0.015},{"k":18,"x":65000,"y":0.016},{"k":18,"x":75000,"y":0.016},{"k":18,"x":85000,"y":0.017},{"k":18,"x":95000,"y":0.016},{"k":18,"x":100000,"y":0.017},
{"k":19,"x":0,"y":0.03},{"k":19,"x":700,"y":0.02},{"k":19,"x":1500,"y":0.01},{"k":19,"x":2500,"y":0.012},{"k":19,"x":3500,"y":0.008},{"k":19,"x":5000,"y":0.01},{"k":19,"x":7000,"y":0.006},{"k":19,"x":9000,"y":0.01},{"k":19,"x":11000,"y":0.006},{"k":19,"x":14000,"y":0.008},{"k":19,"x":17000,"y":0.007},{"k":19,"x":22000,"y":0.009},{"k":19,"x":27000,"y":0.008},{"k":19,"x":35000,"y":0.01},{"k":19,"x":45000,"y":0.011},{"k":19,"x":55000,"y":0.012},{"k":19,"x":65000,"y":0.012},{"k":19,"x":75000,"y":0.013},{"k":19,"x":85000,"y":0.014},{"k":19,"x":95000,"y":0.014},{"k":19,"x":100000,"y":0.015},
{"k":20,"x":0,"y":0.08},{"k":20,"x":700,"y":0.07},{"k":20,"x":1500,"y":0.055},{"k":20,"x":2500,"y":0.06},{"k":20,"x":3500,"y":0.045},{"k":20,"x":5000,"y":0.035},{"k":20,"x":7000,"y":0.04},{"k":20,"x":9000,"y":0.03},{"k":20,"x":11000,"y":0.028},{"k":20,"x":14000,"y":0.032},{"k":20,"x":17000,"y":0.03},{"k":20,"x":22000,"y":0.028},{"k":20,"x":27000,"y":0.026},{"k":20,"x":35000,"y":0.027},{"k":20,"x":45000,"y":0.025},{"k":20,"x":55000,"y":0.024},{"k":20,"x":65000,"y":0.025},{"k":20,"x":75000,"y":0.024},{"k":20,"x":85000,"y":0.023},{"k":20,"x":95000,"y":0.023},{"k":20,"x":100000,"y":0.023},
{"k":21,"x":0,"y":0.05},{"k":21,"x":700,"y":0.03},{"k":21,"x":1500,"y":0.035},{"k":21,"x":2500,"y":0.025},{"k":21,"x":3500,"y":0.018},{"k":21,"x":5000,"y":0.022},{"k":21,"x":7000,"y":0.015},{"k":21,"x":9000,"y":0.02},{"k":21,"x":11000,"y":0.018},{"k":21,"x":14000,"y":0.016},{"k":21,"x":17000,"y":0.018},{"k":21,"x":22000,"y":0.016},{"k":21,"x":27000,"y":0.017},{"k":21,"x":35000,"y":0.015},{"k":21,"x":45000,"y":0.016},{"k":21,"x":55000,"y":0.017},{"k":21,"x":65000,"y":0.017},{"k":21,"x":75000,"y":0.018},{"k":21,"x":85000,"y":0.018},{"k":21,"x":95000,"y":0.018},{"k":21,"x":100000,"y":0.019},
{"k":22,"x":0,"y":0.02},{"k":22,"x":700,"y":0.01},{"k":22,"x":1500,"y":0.005},{"k":22,"x":2500,"y":0.004},{"k":22,"x":3500,"y":0.006},{"k":22,"x":5000,"y":0.003},{"k":22,"x":7000,"y":0.004},{"k":22,"x":9000,"y":0.002},{"k":22,"x":11000,"y":0.003},{"k":22,"x":14000,"y":0.004},{"k":22,"x":17000,"y":0.002},{"k":22,"x":22000,"y":0.003},{"k":22,"x":27000,"y":0.004},{"k":22,"x":35000,"y":0.006},{"k":22,"x":45000,"y":0.006},{"k":22,"x":55000,"y":0.007},{"k":22,"x":65000,"y":0.009},{"k":22,"x":75000,"y":0.01},{"k":22,"x":85000,"y":0.011},{"k":22,"x":95000,"y":0.011},{"k":22,"x":100000,"y":0.012}
      ]},
      "mark": {"type": "line", "strokeWidth": 1.1, "clip": true},
      "encoding": {
        "x": {"field": "x", "type": "quantitative", "scale": {"domain": [0, 100000], "nice": false}, "axis": {"title": null, "values": [0, 20000, 40000, 60000, 80000, 100000], "format": "d", "labelFlush": false}},
        "y": {"field": "y", "type": "quantitative", "scale": {"domain": [0, 0.2], "nice": false}, "axis": {"title": "Correlation Coefficient", "values": [0, 0.025, 0.05, 0.075, 0.1, 0.125, 0.15, 0.175, 0.2], "format": ".3f", "titlePadding": 3}},
        "detail": {"field": "k", "type": "nominal"},
        "color": {"datum": "other keys", "type": "nominal", "scale": {"domain": ["other keys", "correct key"], "range": ["#a9a9a9", "#000000"]}, "legend": {"title": null}}
      }
    },
    {
      "data": {"values": [
{"x":0,"y":0.088},{"x":220,"y":0.008},{"x":384,"y":0.035},{"x":600,"y":0.004},{"x":770,"y":0.005},{"x":1043,"y":0.033},{"x":1427,"y":0.05},{"x":1700,"y":0.047},{"x":2141,"y":0.031},{"x":2415,"y":0.04},{"x":2964,"y":0.045},{"x":3513,"y":0.039},{"x":4062,"y":0.033},{"x":4612,"y":0.0207},{"x":4886,"y":0.019},{"x":5435,"y":0.022},{"x":5984,"y":0.027},{"x":6533,"y":0.025},{"x":7082,"y":0.027},{"x":8180,"y":0.032},{"x":9000,"y":0.03},{"x":9830,"y":0.03},{"x":10500,"y":0.028},{"x":11480,"y":0.03},{"x":12300,"y":0.027},{"x":13120,"y":0.025},{"x":14770,"y":0.022},{"x":16420,"y":0.021},{"x":17510,"y":0.025},{"x":18610,"y":0.022},{"x":19710,"y":0.025},{"x":20810,"y":0.03},{"x":22450,"y":0.029},{"x":24650,"y":0.027},{"x":26300,"y":0.029},{"x":29040,"y":0.028},{"x":31790,"y":0.026},{"x":34530,"y":0.027},{"x":37280,"y":0.025},{"x":40020,"y":0.0254},{"x":45000,"y":0.026},{"x":50000,"y":0.0234},{"x":55000,"y":0.0235},{"x":60000,"y":0.024},{"x":65000,"y":0.0227},{"x":67000,"y":0.022},{"x":70000,"y":0.0232},{"x":75000,"y":0.023},{"x":80000,"y":0.0227},{"x":85000,"y":0.022},{"x":90000,"y":0.0211},{"x":95000,"y":0.0215},{"x":100000,"y":0.0229}
      ]},
      "mark": {"type": "line", "strokeWidth": 1.4, "clip": true},
      "encoding": {
        "x": {"field": "x", "type": "quantitative"},
        "y": {"field": "y", "type": "quantitative"},
        "color": {"datum": "correct key", "type": "nominal", "legend": {"title": null}}
      }
    }
  ]
},
{
  "width": 607, "height": 344,
  "title": "(c) Protected implementation using XDIVINSA with L = 3",
  "layer": [
    {
      "data": {"values": [
{"k":1,"x":0,"y":0.2},{"k":1,"x":400,"y":0.15},{"k":1,"x":1000,"y":0.1},{"k":1,"x":2000,"y":0.065},{"k":1,"x":3000,"y":0.073},{"k":1,"x":4500,"y":0.072},{"k":1,"x":6000,"y":0.078},{"k":1,"x":8000,"y":0.062},{"k":1,"x":10000,"y":0.046},{"k":1,"x":12500,"y":0.049},{"k":1,"x":15000,"y":0.043},{"k":1,"x":20000,"y":0.044},{"k":1,"x":25000,"y":0.043},{"k":1,"x":30000,"y":0.041},{"k":1,"x":40000,"y":0.037},{"k":1,"x":50000,"y":0.034},{"k":1,"x":60000,"y":0.033},{"k":1,"x":70000,"y":0.03},{"k":1,"x":80000,"y":0.029},{"k":1,"x":90000,"y":0.027},{"k":1,"x":100000,"y":0.027},
{"k":2,"x":0,"y":0.16},{"k":2,"x":400,"y":0.14},{"k":2,"x":1000,"y":0.12},{"k":2,"x":2000,"y":0.07},{"k":2,"x":3000,"y":0.06},{"k":2,"x":4500,"y":0.055},{"k":2,"x":6000,"y":0.06},{"k":2,"x":8000,"y":0.05},{"k":2,"x":10000,"y":0.04},{"k":2,"x":12500,"y":0.042},{"k":2,"x":15000,"y":0.038},{"k":2,"x":20000,"y":0.04},{"k":2,"x":25000,"y":0.036},{"k":2,"x":30000,"y":0.034},{"k":2,"x":40000,"y":0.03},{"k":2,"x":50000,"y":0.028},{"k":2,"x":60000,"y":0.027},{"k":2,"x":70000,"y":0.027},{"k":2,"x":80000,"y":0.028},{"k":2,"x":90000,"y":0.026},{"k":2,"x":100000,"y":0.026},
{"k":3,"x":0,"y":0.19},{"k":3,"x":400,"y":0.1},{"k":3,"x":1000,"y":0.09},{"k":3,"x":2000,"y":0.06},{"k":3,"x":3000,"y":0.065},{"k":3,"x":4500,"y":0.05},{"k":3,"x":6000,"y":0.045},{"k":3,"x":8000,"y":0.045},{"k":3,"x":10000,"y":0.045},{"k":3,"x":12500,"y":0.038},{"k":3,"x":15000,"y":0.04},{"k":3,"x":20000,"y":0.035},{"k":3,"x":25000,"y":0.033},{"k":3,"x":30000,"y":0.03},{"k":3,"x":40000,"y":0.028},{"k":3,"x":50000,"y":0.027},{"k":3,"x":60000,"y":0.026},{"k":3,"x":70000,"y":0.025},{"k":3,"x":80000,"y":0.025},{"k":3,"x":90000,"y":0.024},{"k":3,"x":100000,"y":0.025},
{"k":4,"x":0,"y":0.12},{"k":4,"x":400,"y":0.13},{"k":4,"x":1000,"y":0.07},{"k":4,"x":2000,"y":0.05},{"k":4,"x":3000,"y":0.045},{"k":4,"x":4500,"y":0.04},{"k":4,"x":6000,"y":0.05},{"k":4,"x":8000,"y":0.04},{"k":4,"x":10000,"y":0.035},{"k":4,"x":12500,"y":0.033},{"k":4,"x":15000,"y":0.03},{"k":4,"x":20000,"y":0.032},{"k":4,"x":25000,"y":0.03},{"k":4,"x":30000,"y":0.028},{"k":4,"x":40000,"y":0.025},{"k":4,"x":50000,"y":0.024},{"k":4,"x":60000,"y":0.023},{"k":4,"x":70000,"y":0.023},{"k":4,"x":80000,"y":0.022},{"k":4,"x":90000,"y":0.023},{"k":4,"x":100000,"y":0.023},
{"k":5,"x":0,"y":0.1},{"k":5,"x":400,"y":0.08},{"k":5,"x":1000,"y":0.06},{"k":5,"x":2000,"y":0.055},{"k":5,"x":3000,"y":0.04},{"k":5,"x":4500,"y":0.045},{"k":5,"x":6000,"y":0.035},{"k":5,"x":8000,"y":0.03},{"k":5,"x":10000,"y":0.032},{"k":5,"x":12500,"y":0.028},{"k":5,"x":15000,"y":0.026},{"k":5,"x":20000,"y":0.028},{"k":5,"x":25000,"y":0.025},{"k":5,"x":30000,"y":0.024},{"k":5,"x":40000,"y":0.022},{"k":5,"x":50000,"y":0.021},{"k":5,"x":60000,"y":0.021},{"k":5,"x":70000,"y":0.02},{"k":5,"x":80000,"y":0.021},{"k":5,"x":90000,"y":0.021},{"k":5,"x":100000,"y":0.021},
{"k":6,"x":0,"y":0.07},{"k":6,"x":400,"y":0.09},{"k":6,"x":1000,"y":0.05},{"k":6,"x":2000,"y":0.04},{"k":6,"x":3000,"y":0.035},{"k":6,"x":4500,"y":0.03},{"k":6,"x":6000,"y":0.03},{"k":6,"x":8000,"y":0.035},{"k":6,"x":10000,"y":0.025},{"k":6,"x":12500,"y":0.022},{"k":6,"x":15000,"y":0.024},{"k":6,"x":20000,"y":0.022},{"k":6,"x":25000,"y":0.02},{"k":6,"x":30000,"y":0.021},{"k":6,"x":40000,"y":0.019},{"k":6,"x":50000,"y":0.02},{"k":6,"x":60000,"y":0.019},{"k":6,"x":70000,"y":0.019},{"k":6,"x":80000,"y":0.02},{"k":6,"x":90000,"y":0.019},{"k":6,"x":100000,"y":0.02},
{"k":7,"x":0,"y":0.05},{"k":7,"x":400,"y":0.06},{"k":7,"x":1000,"y":0.035},{"k":7,"x":2000,"y":0.03},{"k":7,"x":3000,"y":0.025},{"k":7,"x":4500,"y":0.035},{"k":7,"x":6000,"y":0.02},{"k":7,"x":8000,"y":0.025},{"k":7,"x":10000,"y":0.02},{"k":7,"x":12500,"y":0.018},{"k":7,"x":15000,"y":0.02},{"k":7,"x":20000,"y":0.018},{"k":7,"x":25000,"y":0.018},{"k":7,"x":30000,"y":0.016},{"k":7,"x":40000,"y":0.017},{"k":7,"x":50000,"y":0.018},{"k":7,"x":60000,"y":0.017},{"k":7,"x":70000,"y":0.018},{"k":7,"x":80000,"y":0.018},{"k":7,"x":90000,"y":0.018},{"k":7,"x":100000,"y":0.018},
{"k":8,"x":0,"y":0.03},{"k":8,"x":400,"y":0.04},{"k":8,"x":1000,"y":0.03},{"k":8,"x":2000,"y":0.02},{"k":8,"x":3000,"y":0.03},{"k":8,"x":4500,"y":0.02},{"k":8,"x":6000,"y":0.025},{"k":8,"x":8000,"y":0.015},{"k":8,"x":10000,"y":0.018},{"k":8,"x":12500,"y":0.015},{"k":8,"x":15000,"y":0.014},{"k":8,"x":20000,"y":0.015},{"k":8,"x":25000,"y":0.014},{"k":8,"x":30000,"y":0.015},{"k":8,"x":40000,"y":0.015},{"k":8,"x":50000,"y":0.016},{"k":8,"x":60000,"y":0.016},{"k":8,"x":70000,"y":0.016},{"k":8,"x":80000,"y":0.017},{"k":8,"x":90000,"y":0.017},{"k":8,"x":100000,"y":0.017},
{"k":9,"x":0,"y":0.14},{"k":9,"x":400,"y":0.05},{"k":9,"x":1000,"y":0.02},{"k":9,"x":2000,"y":0.025},{"k":9,"x":3000,"y":0.015},{"k":9,"x":4500,"y":0.025},{"k":9,"x":6000,"y":0.015},{"k":9,"x":8000,"y":0.02},{"k":9,"x":10000,"y":0.012},{"k":9,"x":12500,"y":0.013},{"k":9,"x":15000,"y":0.012},{"k":9,"x":20000,"y":0.012},{"k":9,"x":25000,"y":0.011},{"k":9,"x":30000,"y":0.012},{"k":9,"x":40000,"y":0.013},{"k":9,"x":50000,"y":0.014},{"k":9,"x":60000,"y":0.014},{"k":9,"x":70000,"y":0.015},{"k":9,"x":80000,"y":0.015},{"k":9,"x":90000,"y":0.016},{"k":9,"x":100000,"y":0.016},
{"k":10,"x":0,"y":0.02},{"k":10,"x":400,"y":0.03},{"k":10,"x":1000,"y":0.015},{"k":10,"x":2000,"y":0.01},{"k":10,"x":3000,"y":0.02},{"k":10,"x":4500,"y":0.01},{"k":10,"x":6000,"y":0.01},{"k":10,"x":8000,"y":0.012},{"k":10,"x":10000,"y":0.008},{"k":10,"x":12500,"y":0.01},{"k":10,"x":15000,"y":0.009},{"k":10,"x":20000,"y":0.008},{"k":10,"x":25000,"y":0.009},{"k":10,"x":30000,"y":0.01},{"k":10,"x":40000,"y":0.01},{"k":10,"x":50000,"y":0.012},{"k":10,"x":60000,"y":0.012},{"k":10,"x":70000,"y":0.013},{"k":10,"x":80000,"y":0.014},{"k":10,"x":90000,"y":0.014},{"k":10,"x":100000,"y":0.015},
{"k":11,"x":0,"y":0.08},{"k":11,"x":400,"y":0.02},{"k":11,"x":1000,"y":0.01},{"k":11,"x":2000,"y":0.015},{"k":11,"x":3000,"y":0.008},{"k":11,"x":4500,"y":0.012},{"k":11,"x":6000,"y":0.005},{"k":11,"x":8000,"y":0.008},{"k":11,"x":10000,"y":0.006},{"k":11,"x":12500,"y":0.005},{"k":11,"x":15000,"y":0.006},{"k":11,"x":20000,"y":0.006},{"k":11,"x":25000,"y":0.007},{"k":11,"x":30000,"y":0.007},{"k":11,"x":40000,"y":0.008},{"k":11,"x":50000,"y":0.01},{"k":11,"x":60000,"y":0.01},{"k":11,"x":70000,"y":0.011},{"k":11,"x":80000,"y":0.012},{"k":11,"x":90000,"y":0.013},{"k":11,"x":100000,"y":0.013},
{"k":12,"x":0,"y":0.01},{"k":12,"x":400,"y":0.015},{"k":12,"x":1000,"y":0.005},{"k":12,"x":2000,"y":0.005},{"k":12,"x":3000,"y":0.01},{"k":12,"x":4500,"y":0.004},{"k":12,"x":6000,"y":0.008},{"k":12,"x":8000,"y":0.003},{"k":12,"x":10000,"y":0.004},{"k":12,"x":12500,"y":0.003},{"k":12,"x":15000,"y":0.003},{"k":12,"x":20000,"y":0.004},{"k":12,"x":25000,"y":0.004},{"k":12,"x":30000,"y":0.005},{"k":12,"x":40000,"y":0.004},{"k":12,"x":50000,"y":0.006},{"k":12,"x":60000,"y":0.007},{"k":12,"x":70000,"y":0.008},{"k":12,"x":80000,"y":0.008},{"k":12,"x":90000,"y":0.009},{"k":12,"x":100000,"y":0.011},
{"k":13,"x":0,"y":0.13},{"k":13,"x":400,"y":0.11},{"k":13,"x":1000,"y":0.08},{"k":13,"x":2000,"y":0.065},{"k":13,"x":3000,"y":0.05},{"k":13,"x":4500,"y":0.045},{"k":13,"x":6000,"y":0.04},{"k":13,"x":8000,"y":0.045},{"k":13,"x":10000,"y":0.038},{"k":13,"x":12500,"y":0.035},{"k":13,"x":15000,"y":0.034},{"k":13,"x":20000,"y":0.038},{"k":13,"x":25000,"y":0.033},{"k":13,"x":30000,"y":0.031},{"k":13,"x":40000,"y":0.027},{"k":13,"x":50000,"y":0.025},{"k":13,"x":60000,"y":0.025},{"k":13,"x":70000,"y":0.026},{"k":13,"x":80000,"y":0.026},{"k":13,"x":90000,"y":0.025},{"k":13,"x":100000,"y":0.024},
{"k":14,"x":0,"y":0.06},{"k":14,"x":400,"y":0.07},{"k":14,"x":1000,"y":0.045},{"k":14,"x":2000,"y":0.035},{"k":14,"x":3000,"y":0.045},{"k":14,"x":4500,"y":0.03},{"k":14,"x":6000,"y":0.025},{"k":14,"x":8000,"y":0.02},{"k":14,"x":10000,"y":0.028},{"k":14,"x":12500,"y":0.025},{"k":14,"x":15000,"y":0.022},{"k":14,"x":20000,"y":0.02},{"k":14,"x":25000,"y":0.022},{"k":14,"x":30000,"y":0.019},{"k":14,"x":40000,"y":0.02},{"k":14,"x":50000,"y":0.019},{"k":14,"x":60000,"y":0.02},{"k":14,"x":70000,"y":0.021},{"k":14,"x":80000,"y":0.019},{"k":14,"x":90000,"y":0.02},{"k":14,"x":100000,"y":0.019},
{"k":15,"x":0,"y":0.15},{"k":15,"x":700,"y":0.1},{"k":15,"x":1500,"y":0.07},{"k":15,"x":2500,"y":0.06},{"k":15,"x":3500,"y":0.055},{"k":15,"x":5000,"y":0.05},{"k":15,"x":7000,"y":0.045},{"k":15,"x":9000,"y":0.04},{"k":15,"x":11000,"y":0.04},{"k":15,"x":14000,"y":0.036},{"k":15,"x":17000,"y":0.035},{"k":15,"x":22000,"y":0.032},{"k":15,"x":27000,"y":0.03},{"k":15,"x":35000,"y":0.028},{"k":15,"x":45000,"y":0.026},{"k":15,"x":55000,"y":0.025},{"k":15,"x":65000,"y":0.025},{"k":15,"x":75000,"y":0.024},{"k":15,"x":85000,"y":0.025},{"k":15,"x":95000,"y":0.024},{"k":15,"x":100000,"y":0.025},
{"k":16,"x":0,"y":0.09},{"k":16,"x":700,"y":0.06},{"k":16,"x":1500,"y":0.05},{"k":16,"x":2500,"y":0.045},{"k":16,"x":3500,"y":0.04},{"k":16,"x":5000,"y":0.035},{"k":16,"x":7000,"y":0.03},{"k":16,"x":9000,"y":0.032},{"k":16,"x":11000,"y":0.028},{"k":16,"x":14000,"y":0.025},{"k":16,"x":17000,"y":0.027},{"k":16,"x":22000,"y":0.024},{"k":16,"x":27000,"y":0.023},{"k":16,"x":35000,"y":0.022},{"k":16,"x":45000,"y":0.021},{"k":16,"x":55000,"y":0.022},{"k":16,"x":65000,"y":0.022},{"k":16,"x":75000,"y":0.021},{"k":16,"x":85000,"y":0.022},{"k":16,"x":95000,"y":0.022},{"k":16,"x":100000,"y":0.022},
{"k":17,"x":0,"y":0.05},{"k":17,"x":700,"y":0.04},{"k":17,"x":1500,"y":0.03},{"k":17,"x":2500,"y":0.025},{"k":17,"x":3500,"y":0.03},{"k":17,"x":5000,"y":0.022},{"k":17,"x":7000,"y":0.025},{"k":17,"x":9000,"y":0.02},{"k":17,"x":11000,"y":0.018},{"k":17,"x":14000,"y":0.02},{"k":17,"x":17000,"y":0.017},{"k":17,"x":22000,"y":0.018},{"k":17,"x":27000,"y":0.017},{"k":17,"x":35000,"y":0.016},{"k":17,"x":45000,"y":0.017},{"k":17,"x":55000,"y":0.018},{"k":17,"x":65000,"y":0.017},{"k":17,"x":75000,"y":0.018},{"k":17,"x":85000,"y":0.018},{"k":17,"x":95000,"y":0.017},{"k":17,"x":100000,"y":0.018},
{"k":18,"x":0,"y":0.12},{"k":18,"x":700,"y":0.03},{"k":18,"x":1500,"y":0.02},{"k":18,"x":2500,"y":0.015},{"k":18,"x":3500,"y":0.012},{"k":18,"x":5000,"y":0.015},{"k":18,"x":7000,"y":0.01},{"k":18,"x":9000,"y":0.012},{"k":18,"x":11000,"y":0.01},{"k":18,"x":14000,"y":0.011},{"k":18,"x":17000,"y":0.012},{"k":18,"x":22000,"y":0.01},{"k":18,"x":27000,"y":0.011},{"k":18,"x":35000,"y":0.012},{"k":18,"x":45000,"y":0.013},{"k":18,"x":55000,"y":0.012},{"k":18,"x":65000,"y":0.013},{"k":18,"x":75000,"y":0.014},{"k":18,"x":85000,"y":0.014},{"k":18,"x":95000,"y":0.015},{"k":18,"x":100000,"y":0.015},
{"k":19,"x":0,"y":0.02},{"k":19,"x":700,"y":0.015},{"k":19,"x":1500,"y":0.008},{"k":19,"x":2500,"y":0.01},{"k":19,"x":3500,"y":0.006},{"k":19,"x":5000,"y":0.004},{"k":19,"x":7000,"y":0.006},{"k":19,"x":9000,"y":0.003},{"k":19,"x":11000,"y":0.005},{"k":19,"x":14000,"y":0.004},{"k":19,"x":17000,"y":0.005},{"k":19,"x":22000,"y":0.006},{"k":19,"x":27000,"y":0.005},{"k":19,"x":35000,"y":0.006},{"k":19,"x":45000,"y":0.007},{"k":19,"x":55000,"y":0.008},{"k":19,"x":65000,"y":0.008},{"k":19,"x":75000,"y":0.009},{"k":19,"x":85000,"y":0.01},{"k":19,"x":95000,"y":0.01},{"k":19,"x":100000,"y":0.011},
{"k":20,"x":0,"y":0.1},{"k":20,"x":700,"y":0.08},{"k":20,"x":1500,"y":0.06},{"k":20,"x":2500,"y":0.055},{"k":20,"x":3500,"y":0.045},{"k":20,"x":5000,"y":0.04},{"k":20,"x":7000,"y":0.04},{"k":20,"x":9000,"y":0.035},{"k":20,"x":11000,"y":0.034},{"k":20,"x":14000,"y":0.03},{"k":20,"x":17000,"y":0.03},{"k":20,"x":22000,"y":0.03},{"k":20,"x":27000,"y":0.028},{"k":20,"x":35000,"y":0.027},{"k":20,"x":45000,"y":0.024},{"k":20,"x":55000,"y":0.024},{"k":20,"x":65000,"y":0.023},{"k":20,"x":75000,"y":0.023},{"k":20,"x":85000,"y":0.024},{"k":20,"x":95000,"y":0.023},{"k":20,"x":100000,"y":0.024},
{"k":21,"x":0,"y":0.07},{"k":21,"x":700,"y":0.05},{"k":21,"x":1500,"y":0.045},{"k":21,"x":2500,"y":0.035},{"k":21,"x":3500,"y":0.025},{"k":21,"x":5000,"y":0.03},{"k":21,"x":7000,"y":0.02},{"k":21,"x":9000,"y":0.025},{"k":21,"x":11000,"y":0.022},{"k":21,"x":14000,"y":0.02},{"k":21,"x":17000,"y":0.02},{"k":21,"x":22000,"y":0.02},{"k":21,"x":27000,"y":0.02},{"k":21,"x":35000,"y":0.019},{"k":21,"x":45000,"y":0.018},{"k":21,"x":55000,"y":0.019},{"k":21,"x":65000,"y":0.019},{"k":21,"x":75000,"y":0.02},{"k":21,"x":85000,"y":0.02},{"k":21,"x":95000,"y":0.02},{"k":21,"x":100000,"y":0.02},
{"k":22,"x":0,"y":0.04},{"k":22,"x":700,"y":0.025},{"k":22,"x":1500,"y":0.015},{"k":22,"x":2500,"y":0.02},{"k":22,"x":3500,"y":0.015},{"k":22,"x":5000,"y":0.01},{"k":22,"x":7000,"y":0.013},{"k":22,"x":9000,"y":0.01},{"k":22,"x":11000,"y":0.012},{"k":22,"x":14000,"y":0.008},{"k":22,"x":17000,"y":0.01},{"k":22,"x":22000,"y":0.009},{"k":22,"x":27000,"y":0.008},{"k":22,"x":35000,"y":0.009},{"k":22,"x":45000,"y":0.01},{"k":22,"x":55000,"y":0.011},{"k":22,"x":65000,"y":0.01},{"k":22,"x":75000,"y":0.012},{"k":22,"x":85000,"y":0.012},{"k":22,"x":95000,"y":0.013},{"k":22,"x":100000,"y":0.012}
      ]},
      "mark": {"type": "line", "strokeWidth": 1.1, "clip": true},
      "encoding": {
        "x": {"field": "x", "type": "quantitative", "scale": {"domain": [0, 100000], "nice": false}, "axis": {"title": "Number of Traces", "titlePadding": 3, "values": [0, 20000, 40000, 60000, 80000, 100000], "format": "d", "labelFlush": false}},
        "y": {"field": "y", "type": "quantitative", "scale": {"domain": [0, 0.2], "nice": false}, "axis": {"title": "Correlation Coefficient", "values": [0, 0.025, 0.05, 0.075, 0.1, 0.125, 0.15, 0.175, 0.2], "format": ".3f", "titlePadding": 3}},
        "detail": {"field": "k", "type": "nominal"},
        "color": {"datum": "other keys", "type": "nominal", "scale": {"domain": ["other keys", "correct key"], "range": ["#a9a9a9", "#000000"]}, "legend": {"title": null}}
      }
    },
    {
      "data": {"values": [
{"x":0,"y":0.12},{"x":100,"y":0.09},{"x":250,"y":0.03},{"x":384,"y":0.002},{"x":600,"y":0.03},{"x":770,"y":0.048},{"x":900,"y":0.02},{"x":1043,"y":0.001},{"x":1318,"y":0.0145},{"x":1600,"y":0.008},{"x":1866,"y":0.012},{"x":2415,"y":0.002},{"x":2964,"y":0.0125},{"x":3513,"y":0.002},{"x":4062,"y":0.011},{"x":4886,"y":0.01},{"x":5710,"y":0.011},{"x":6533,"y":0.01},{"x":7082,"y":0.011},{"x":7905,"y":0.017},{"x":8729,"y":0.0145},{"x":9552,"y":0.015},{"x":10375,"y":0.0077},{"x":10924,"y":0.001},{"x":12023,"y":0.0005},{"x":14219,"y":0.0005},{"x":15317,"y":0.003},{"x":16415,"y":0.001},{"x":18611,"y":0.001},{"x":19709,"y":0.0005},{"x":20807,"y":0.0003},{"x":21905,"y":0.001},{"x":22729,"y":0.0106},{"x":24101,"y":0.0097},{"x":26297,"y":0.0105},{"x":28493,"y":0.0077},{"x":31788,"y":0.0068},{"x":34532,"y":0.0058},{"x":37277,"y":0.0087},{"x":39747,"y":0.0087},{"x":44975,"y":0.0068},{"x":49374,"y":0.0068},{"x":52120,"y":0.0087},{"x":57600,"y":0.0106},{"x":65850,"y":0.0106},{"x":74090,"y":0.0131},{"x":82320,"y":0.0131},{"x":87810,"y":0.0125},{"x":93300,"y":0.0122},{"x":94950,"y":0.0115},{"x":99340,"y":0.0139},{"x":100000,"y":0.014}
      ]},
      "mark": {"type": "line", "strokeWidth": 1.4, "clip": true},
      "encoding": {
        "x": {"field": "x", "type": "quantitative"},
        "y": {"field": "y", "type": "quantitative"},
        "color": {"datum": "correct key", "type": "nominal", "legend": {"title": null}}
      }
    }
  ]
}
]
}
